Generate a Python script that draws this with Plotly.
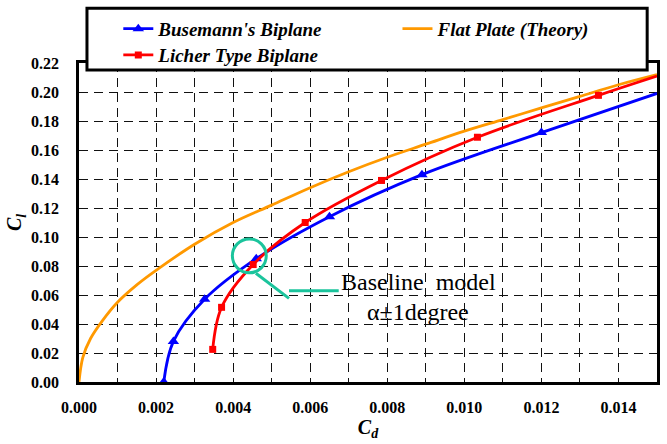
import plotly.graph_objects as go

# ---------------- data ----------------
busemann_cd = [0.00220, 0.00245, 0.00326, 0.00460, 0.00650, 0.00890, 0.01200, 0.01500]
busemann_cl = [0.000, 0.028, 0.057, 0.085, 0.114, 0.143, 0.172, 0.199]
busemann_marker = [True, True, True, True, True, True, True, False]

licher_cd = [0.00347, 0.00370, 0.00452, 0.00587, 0.00785, 0.01034, 0.01348, 0.01500]
licher_cl = [0.0225, 0.0515, 0.081, 0.110, 0.139, 0.1688, 0.1977, 0.211]
licher_marker = [True, True, True, True, True, True, True, False]

flat_cd = [0.0, 0.0001, 0.0003, 0.0006, 0.0010, 0.0015, 0.0020, 0.0030, 0.0040, 0.0050,
           0.0060, 0.0070, 0.0080, 0.0090, 0.0100, 0.0110, 0.0120, 0.0130, 0.0140, 0.0150]
flat_cl = [0.0, 0.017, 0.030, 0.042, 0.055, 0.067, 0.077, 0.095, 0.110, 0.122,
           0.134, 0.145, 0.155, 0.164, 0.173, 0.181, 0.189, 0.197, 0.205, 0.212]

x_range = [0.0, 0.015]
y_range = [0.0, 0.22]

SERIF = "Liberation Serif, Times New Roman, serif"
BLUE = "#0000FF"
RED = "#FF0000"
ORANGE = "#FF9900"
TEAL = "#1BC49C"

fig = go.Figure()

fig.add_trace(go.Scatter(
    x=flat_cd, y=flat_cl, mode="lines", name="Flat Plate (Theory)",
    line=dict(color=ORANGE, width=2.8, shape="spline"),
    legend="legend2", showlegend=True,
))

fig.add_trace(go.Scatter(
    x=busemann_cd, y=busemann_cl, mode="lines+markers", name="Busemann's Biplane",
    line=dict(color=BLUE, width=2.8, shape="spline"),
    marker=dict(symbol="triangle-up", size=10,
                color=[BLUE if m else "rgba(0,0,0,0)" for m in busemann_marker]),
    cliponaxis=False,
    legend="legend", showlegend=True,
))

fig.add_trace(go.Scatter(
    x=licher_cd, y=licher_cl, mode="lines+markers", name="Licher Type Biplane",
    line=dict(color=RED, width=2.8, shape="spline"),
    marker=dict(symbol="square", size=7,
                color=[RED if m else "rgba(0,0,0,0)" for m in licher_marker]),
    legend="legend3", showlegend=True,
))

legend_font = dict(family=SERIF, size=19, color="black", weight="bold", style="italic")
legend_common = dict(bgcolor="rgba(0,0,0,0)", borderwidth=0, font=legend_font,
                     xanchor="left", yanchor="middle", visible=True)

grid_style = dict(gridcolor="#111111", gridwidth=1, griddash="9px,6px")

fig.update_layout(
    width=667, height=444,
    margin=dict(l=79, r=7, t=63, b=62),
    paper_bgcolor="white", plot_bgcolor="white",
    font=dict(family=SERIF, color="black"),
    showlegend=True,
    legend=dict(x=0.068, y=1.107, **legend_common),
    legend2=dict(x=0.551, y=1.107, **legend_common),
    legend3=dict(x=0.068, y=1.025, **legend_common),
    xaxis=dict(
        range=x_range, dtick=0.002, tick0=0, tickformat=".3f",
        showline=True, linecolor="black", linewidth=2.8, mirror=True,
        showgrid=True, **grid_style,
        minor=dict(dtick=0.001, showgrid=True, **grid_style),
        ticks="", ticklabelstandoff=9,
        tickfont=dict(family=SERIF, size=16, color="black", weight="bold"),
        title=dict(text="<b><i>C</i></b><sub><b><i>d</i></b></sub>",
                   font=dict(family=SERIF, size=20, color="black"), standoff=2),
        zeroline=False,
    ),
    yaxis=dict(
        range=y_range, dtick=0.02, tick0=0, tickformat=".2f",
        showline=True, linecolor="black", linewidth=2.8, mirror=True,
        showgrid=True, **grid_style,
        ticks="", ticklabelstandoff=14,
        tickfont=dict(family=SERIF, size=16, color="black", weight="bold"),
        title=dict(text="<b><i>C</i></b><sub><b><i>l</i></b></sub>",
                   font=dict(family=SERIF, size=20, color="black"), standoff=4),
        zeroline=False,
    ),
)

# legend frame (drawn as a shape; the legend items sit on top of it)
fig.add_shape(type="rect", xref="paper", yref="paper",
              x0=0.0138, x1=0.983, y0=0.978, y1=1.172,
              line=dict(color="black", width=3), fillcolor="white", layer="above")

# baseline-model callout
fig.add_shape(type="circle", xref="x", yref="y",
              x0=0.00398, x1=0.00486, y0=0.0753, y1=0.0987,
              line=dict(color=TEAL, width=3), layer="above")
fig.add_shape(type="line", xref="x", yref="y",
              x0=0.00459, y0=0.0750, x1=0.00545, y1=0.0577,
              line=dict(color=TEAL, width=3), layer="above")
fig.add_shape(type="line", xref="x", yref="y",
              x0=0.00545, y0=0.0630, x1=0.00674, y1=0.0630,
              line=dict(color=TEAL, width=3), layer="above")

fig.add_annotation(x=0.00676, y=0.069, xref="x", yref="y", xanchor="left", yanchor="middle",
                   text="Baseline  model", showarrow=False,
                   font=dict(family=SERIF, size=24, color="black"))
fig.add_annotation(x=0.00881, y=0.048, xref="x", yref="y", xanchor="center", yanchor="middle",
                   text="α±1degree", showarrow=False,
                   font=dict(family=SERIF, size=24, color="black"))

fig.write_html("out.html")
